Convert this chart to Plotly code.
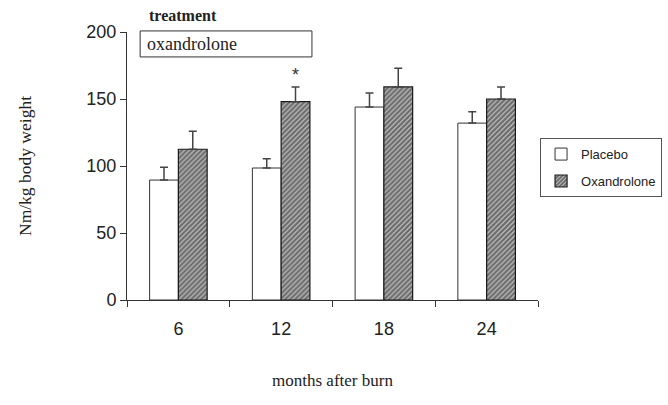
import plotly.graph_objects as go

months = ["6", "12", "18", "24"]
placebo = [89.5, 98.5, 144, 132]
placebo_err = [9.5, 7, 10.5, 8.5]
oxandrolone = [112.5, 148, 159, 150]
oxandrolone_err = [13.5, 11, 14, 9]
y_ticks = [0, 50, 100, 150, 200]

sans = "Liberation Sans"
serif = "Liberation Serif"

fig = go.Figure()
fig.add_trace(go.Bar(
    name="Placebo", x=months, y=placebo, legendgroup="p",
    marker=dict(color="white", line=dict(color="#333333", width=1)),
    error_y=dict(type="data", symmetric=False, array=placebo_err,
                 arrayminus=[0] * len(placebo_err),
                 color="#444444", thickness=1.5, width=4),
))
fig.add_trace(go.Bar(
    name="Oxandrolone", x=months, y=oxandrolone, legendgroup="o",
    marker=dict(color="#3a3a3a", line=dict(color="#1a1a1a", width=1.2),
                pattern=dict(shape="/", fgcolor="#151515", bgcolor="#bcbcbc",
                             size=3.5, solidity=0.62)),
    error_y=dict(type="data", symmetric=False, array=oxandrolone_err,
                 arrayminus=[0] * len(oxandrolone_err),
                 color="#444444", thickness=1.5, width=4),
))

fig.add_annotation(x=months.index("12"), y=oxandrolone[1] + oxandrolone_err[1],
                   xref="x", yref="y",
                   text="*", showarrow=False, xshift=14.5, yshift=0, yanchor="bottom",
                   font=dict(family=sans, size=18, color="#333333"))

fig.add_shape(type="rect", xref="paper", yref="paper",
              x0=0.032, x1=0.450, y0=0.907, y1=1.004,
              line=dict(color="#333333", width=1), fillcolor="white")
fig.add_annotation(xref="paper", yref="paper", x=0.045, y=0.955, text="oxandrolone",
                   showarrow=False, xanchor="left", yanchor="middle",
                   font=dict(family="Liberation Serif, Times New Roman, serif",
                             size=18, color="#222222"))
fig.add_annotation(xref="paper", yref="paper", x=0.048, y=1.06, text="<b>treatment</b>",
                   showarrow=False, xanchor="left", yanchor="middle",
                   font=dict(family=serif, size=16, color="#222222"))

fig.update_layout(
    width=668, height=405,
    margin=dict(l=127, r=130, t=32, b=105, autoexpand=False),
    plot_bgcolor="white", paper_bgcolor="white",
    barmode="group", bargap=0.44, bargroupgap=0,
    showlegend=True,
    legend=dict(x=1.005, y=0.604, xanchor="left", yanchor="top",
                bgcolor="white", bordercolor="#555555", borderwidth=1,
                font=dict(family=sans, size=13, color="#222222"),
                tracegroupgap=7, itemwidth=30),
    xaxis=dict(type="category", showline=True, linecolor="#333333", linewidth=1,
               ticks="outside", tickson="boundaries", ticklen=6, tickcolor="#333333",
               tickfont=dict(family=sans, size=18, color="#222222"),
               ticklabelstandoff=12,
               title=dict(text="months after burn", standoff=36,
                          font=dict(family=serif, size=17, color="#222222")),
               showgrid=False, zeroline=False),
    yaxis=dict(range=[0, 200], tickvals=y_ticks, showline=True, linecolor="#333333",
               linewidth=1, ticks="outside", ticklen=6, tickcolor="#333333",
               tickfont=dict(family=sans, size=18, color="#222222"),
               title=dict(text="Nm/kg body weight", standoff=50,
                          font=dict(family=serif, size=17.5, color="#222222")),
               showgrid=False, zeroline=False),
)

fig.write_html("out.html")
